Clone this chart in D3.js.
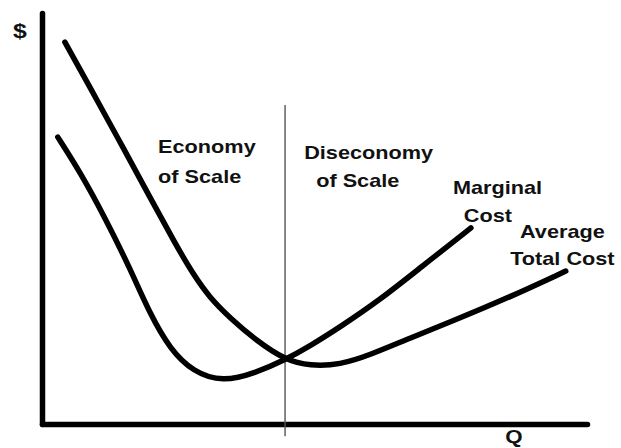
<!DOCTYPE html>
<html>
    <head>
        <title>Economies of scale</title>
        <script src="https://d3js.org/d3.v7.min.js"></script>
        <style>
            body { margin: 0; background: #fff; }
            text { font-family: "Liberation Sans", Arial, sans-serif; font-weight: bold; fill: #111; }
        </style>
    </head>
    <body>
        <script type="text/javascript">
            // curve points, Q on x, $ on y (0..100 units)
            const atcQ = [4.2, 10.6, 14.9, 19.8, 24.4, 27.7, 30.8, 34.5, 39.4, 44.6, 49.2, 54.7, 60.2, 67.5, 74.9, 85.9, 96.1];
            const atcCost = [92.9, 77.6, 67.2, 55.2, 44.0, 36.5, 30.7, 25.8, 20.2, 15.6, 14.1, 14.4, 16.8, 20.9, 24.8, 30.9, 37.2];

            const mcQ = [2.9, 7.0, 11.6, 16.1, 19.8, 23.5, 27.7, 33.2, 39.1, 44.6, 49.2, 54.7, 62.0, 69.4, 78.7];
            const mcCost = [69.8, 61.3, 50.1, 38.0, 26.8, 18.2, 12.7, 10.2, 12.4, 15.6, 19.0, 23.6, 30.2, 38.0, 47.7];

            // where the two curves cross -> split line
            const splitQ = 44.6;
            const splitRange = [-3, 77.6];

            // annotation texts and where they sit (in data units)
            const labelText = ['Economy', 'of Scale', 'Diseconomy', 'of Scale', 'Marginal', 'Cost', 'Average', 'Total Cost'];
            const labelQ = [21.3, 21.3, 48.1, 50.3, 75.4, 77.4, 87.7, 85.9];
            const labelCost = [65.9, 58.6, 64.5, 57.7, 56.0, 49.1, 45.3, 38.7];

            const width = 621;
            const height = 448;

            const svg = d3.select('body').append('svg').attr('width', width).attr('height', height);

            const x = d3.scaleLinear().domain([0, 100]).range([42, 587]);
            const y = d3.scaleLinear().domain([0, 100]).range([424, 13]);

            // axes, no ticks - just the heavy lines
            svg.append('g').attr('transform', `translate(0,${y(0)})`)
                .call(d3.axisBottom(x).tickValues([]).tickSizeOuter(0));
            svg.append('g').attr('transform', `translate(${x(0)},0)`)
                .call(d3.axisLeft(y).tickValues([]).tickSizeOuter(0));
            svg.selectAll('.domain')
                .attr('stroke', '#000')
                .attr('stroke-width', 5.5)
                .attr('stroke-linecap', 'round');

            // thin divider
            svg.append('line')
                .attr('x1', x(splitQ)).attr('x2', x(splitQ))
                .attr('y1', y(splitRange[0])).attr('y2', y(splitRange[1]))
                .attr('stroke', '#555')
                .attr('stroke-width', 1.4);

            const line = d3.line()
                .x(d => x(d[0]))
                .y(d => y(d[1]))
                .curve(d3.curveBasis);

            const curves = [d3.zip(atcQ, atcCost), d3.zip(mcQ, mcCost)];
            svg.append('g').selectAll('path')
                .data(curves)
                .enter()
                .append('path')
                .attr('d', line)
                .attr('fill', 'none')
                .attr('stroke', '#000')
                .attr('stroke-width', 5.5)
                .attr('stroke-linecap', 'round')
                .attr('stroke-linejoin', 'round');

            // labels are wide in the original, so stretch them a bit
            const stretch = 1.24;
            svg.append('g').selectAll('text')
                .data(labelText)
                .enter()
                .append('text')
                .attr('transform', (d, i) => `translate(${x(labelQ[i])},${y(labelCost[i])}) scale(${stretch},1)`)
                .style('font-size', '17.5px')
                .text(d => d);

            // axis titles
            svg.append('text')
                .attr('transform', `translate(${x(-5.3)},${y(93.9)}) scale(${stretch},1)`)
                .style('font-size', '20px')
                .text('$');
            svg.append('text')
                .attr('transform', `translate(${x(85)},${y(-4.6)}) scale(${stretch},1)`)
                .style('font-size', '18px')
                .text('Q');
        </script>
    </body>
</html>
